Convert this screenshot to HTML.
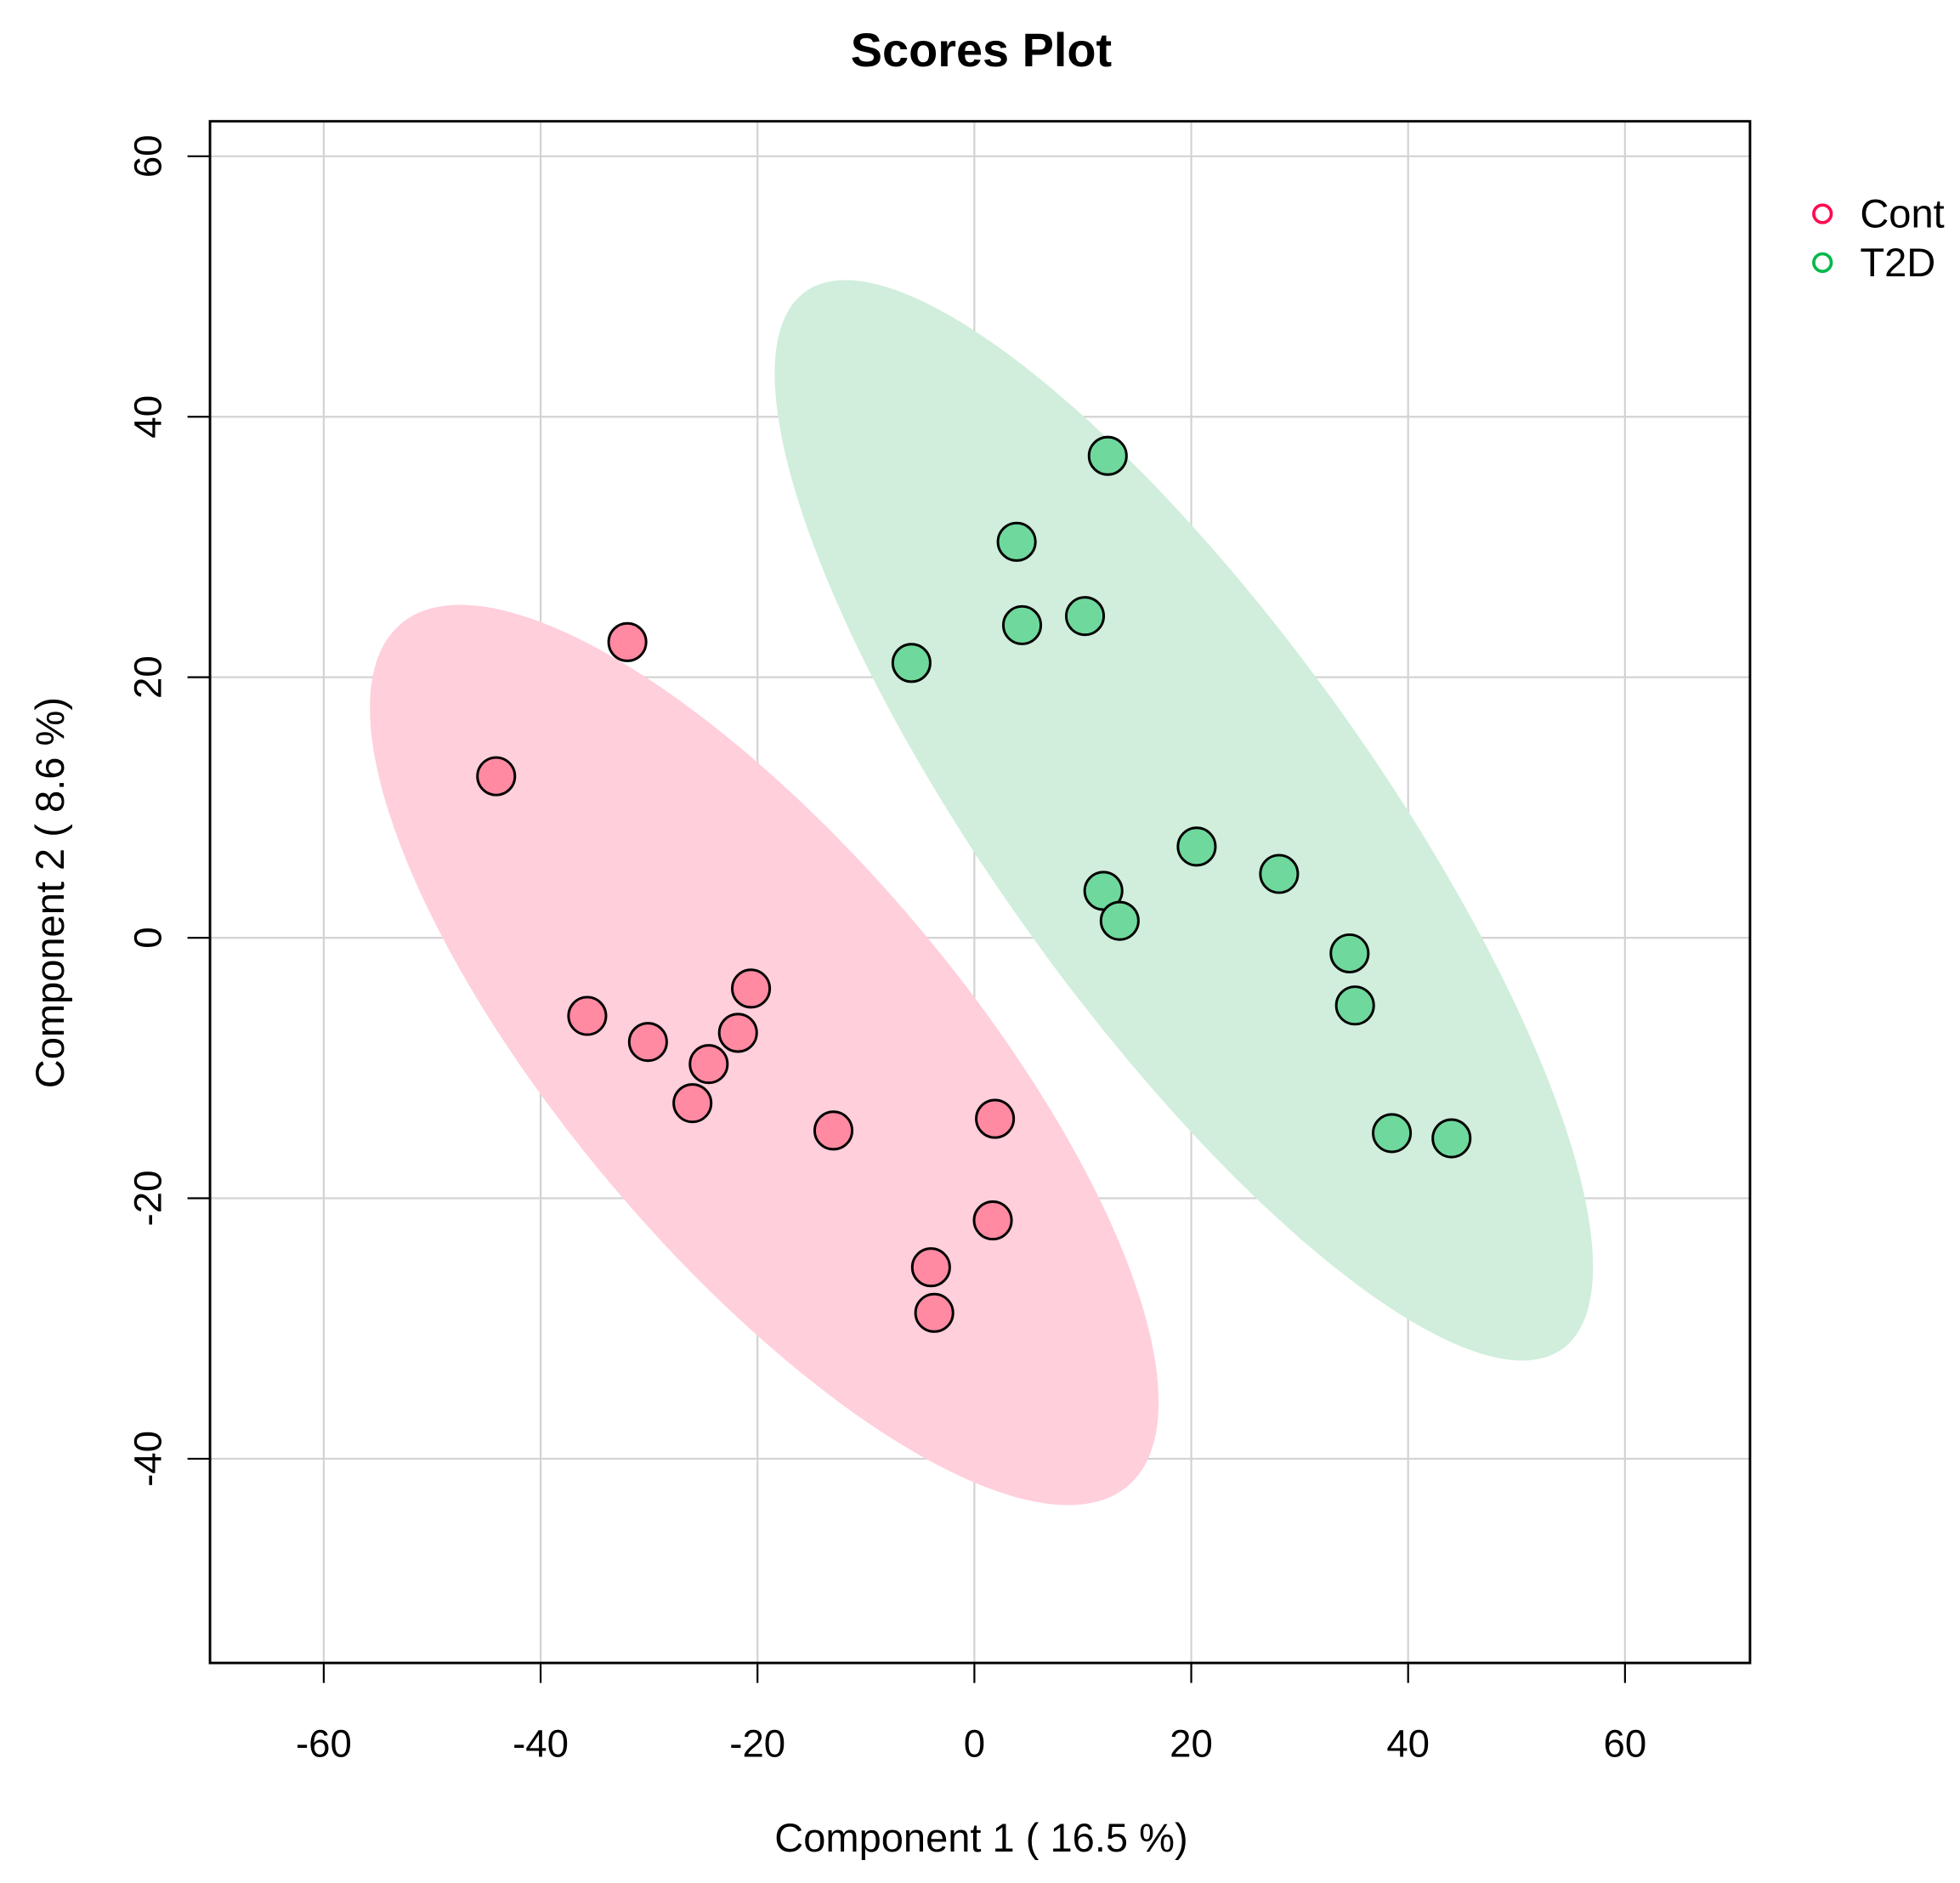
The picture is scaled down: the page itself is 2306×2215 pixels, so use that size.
<!DOCTYPE html>
<html><head><meta charset="utf-8"><style>
html,body{margin:0;padding:0;background:#fff;}
svg{display:block;font-family:"Liberation Sans",Arial,sans-serif;}
</style></head><body>
<svg id="chart" width="2306" height="2215" viewBox="0 0 1568 1506" preserveAspectRatio="none" xmlns="http://www.w3.org/2000/svg">
<rect width="1568" height="1506" fill="#fff"/>
<g id="grid"></g>
<g id="ellipses"></g>
<g id="points"></g>
<rect x="168" y="97" width="1232" height="1233" fill="none" stroke="#000" stroke-width="2"/>
<g id="axes"></g>
<text x="785" y="53" text-anchor="middle" font-size="38" font-weight="bold">Scores Plot</text>
<text x="785" y="1481" text-anchor="middle" font-size="32">Component 1 ( 16.5 %)</text>
<text transform="translate(51,714) rotate(-90)" text-anchor="middle" font-size="32">Component 2 ( 8.6 %)</text>
<g>
<g><circle cx="1458" cy="171" r="7" fill="none" stroke="#ff0a50" stroke-width="2.5"/><text x="1488" y="182" font-size="32">Cont</text></g>
<g><circle cx="1458" cy="210" r="7" fill="none" stroke="#00b84a" stroke-width="2.5"/><text x="1488" y="221" font-size="32">T2D</text></g>
</g>
</svg>
<script>
const xTicks=[-60,-40,-20,0,20,40,60];
const yTicks=[-40,-20,0,20,40,60];
const contX=[-32.0,-44.1,-35.7,-30.1,-20.6,-21.8,-24.5,-26.0,-13.0,1.9,1.7,-4.0,-3.7];
const contY=[22.7,12.4,-6.0,-8.0,-3.9,-7.3,-9.7,-12.7,-14.8,-13.9,-21.7,-25.3,-28.8];
const t2dX=[12.3,3.9,4.4,10.2,-5.8,20.5,28.1,11.9,13.4,34.6,35.1,38.5,44.0];
const t2dY=[37.0,30.4,24.0,24.7,21.1,7.0,4.9,3.6,1.3,-1.2,-5.2,-15.0,-15.4];
const NS='http://www.w3.org/2000/svg';
const sx=v=>779.5+v*8.675;
const sy=v=>750-v*10.417;
function mk(tag,attrs,parent){const e=document.createElementNS(NS,tag);for(const k in attrs)e.setAttribute(k,attrs[k]);parent.appendChild(e);return e;}
const grid=document.getElementById('grid'),axes=document.getElementById('axes');
xTicks.forEach(t=>{
  const l=mk('line',{x1:sx(t),x2:sx(t),y1:97,y2:1330,stroke:'#d3d3d3','stroke-width':1.5},grid);
  
  
  const tk=mk('line',{x1:sx(t),x2:sx(t),y1:1330,y2:1346,stroke:'#000','stroke-width':1.5},axes);
  
  
  const tx=mk('text',{x:sx(t),y:1405,'text-anchor':'middle','font-size':31},axes);
  tx.textContent=String(t);
  
  
});
yTicks.forEach(t=>{
  const l=mk('line',{x1:168,x2:1400,y1:sy(t),y2:sy(t),stroke:'#d3d3d3','stroke-width':1.5},grid);
  
  
  const tk=mk('line',{x1:150,x2:168,y1:sy(t),y2:sy(t),stroke:'#000','stroke-width':1.5},axes);
  
  
  const tx=mk('text',{transform:`translate(129,${sy(t)}) rotate(-90)`,'text-anchor':'middle','font-size':31},axes);
  tx.textContent=String(t);
  
  
});
function ellipse(xs,ys,fill,name){
  const n=xs.length,mx=xs.reduce((a,b)=>a+b)/n,my=ys.reduce((a,b)=>a+b)/n;
  let sxx=0,syy=0,sxy=0;
  for(let i=0;i<n;i++){sxx+=(xs[i]-mx)**2;syy+=(ys[i]-my)**2;sxy+=(xs[i]-mx)*(ys[i]-my);}
  sxx/=n-1;syy/=n-1;sxy/=n-1;
  const a=Math.sqrt(sxx),b=sxy/a,c=Math.sqrt(Math.max(syy-b*b,0)),r=Math.sqrt(5.991);
  let d='';
  for(let k=0;k<=200;k++){const t=2*Math.PI*k/200,u=r*Math.cos(t),v=r*Math.sin(t);
    const px=mx+a*u,py=my+b*u+c*v;d+=(k?'L':'M')+sx(px).toFixed(1)+','+sy(py).toFixed(1);}
  const p=mk('path',{d:d+'Z',fill:fill,stroke:'none'},document.getElementById('ellipses'));
  
  
}
ellipse(contX,contY,'#ffcfdb','cont-ellipse');
ellipse(t2dX,t2dY,'#d0eedb','t2d-ellipse');
const pts=document.getElementById('points');
contX.forEach((x,i)=>{
  const c=mk('circle',{cx:sx(x),cy:sy(contY[i]),r:15,fill:'#ff8aa2',stroke:'#000','stroke-width':2},pts);
  
  
});
t2dX.forEach((x,i)=>{
  const c=mk('circle',{cx:sx(x),cy:sy(t2dY[i]),r:15,fill:'#6fd89c',stroke:'#000','stroke-width':2},pts);
  
  
});
</script>
</body></html>
